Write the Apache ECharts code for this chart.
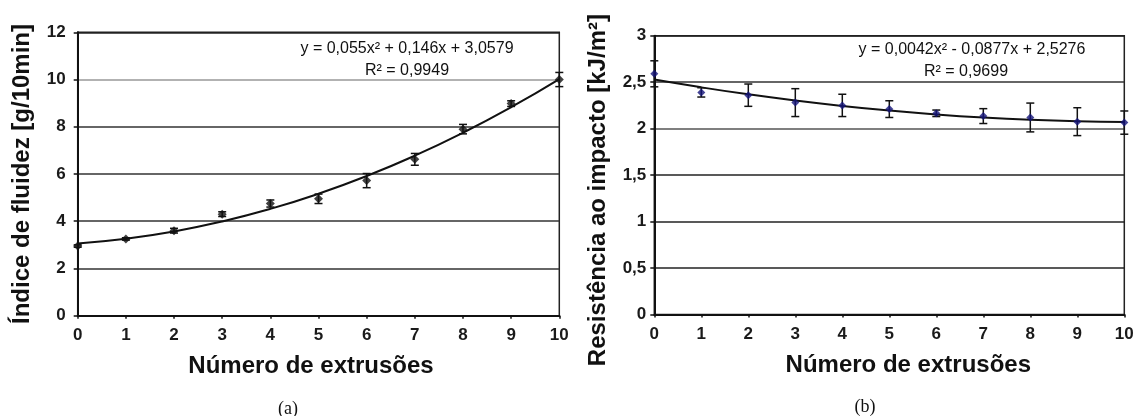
<!DOCTYPE html>
<html>
<head>
<meta charset="utf-8">
<script src="https://cdn.jsdelivr.net/npm/echarts@6/dist/echarts.min.js"></script>
<style>
  html, body { margin: 0; padding: 0; background: #ffffff; }
  #chart { width: 1137px; height: 416px; }
</style>
</head>
<body>
<div id="chart"></div>
<script>
// Número de extrusões (shared x values)
const extrusoes = [0, 1, 2, 3, 4, 5, 6, 7, 8, 9, 10];

// (a) Índice de fluidez [g/10min] — means and error half-widths
const fluidez = [2.95, 3.25, 3.6, 4.3, 4.75, 4.95, 5.72, 6.62, 7.9, 8.98, 10.0];
const fluidezErro = [0.05, 0.05, 0.1, 0.1, 0.15, 0.2, 0.3, 0.25, 0.2, 0.12, 0.3];
// quadratic trend coefficients [a, b, c] for y = a·x² + b·x + c
const fluidezTrend = [0.055, 0.146, 3.0579];
const fluidezEq = ['y = 0,055x² + 0,146x + 3,0579', 'R² = 0,9949'];

// (b) Resistência ao impacto [kJ/m²] — means and error half-widths
const impacto = [2.59, 2.39, 2.36, 2.28, 2.25, 2.21, 2.165, 2.135, 2.12, 2.075, 2.065];
const impactoErro = [0.14, 0.05, 0.12, 0.15, 0.12, 0.09, 0.035, 0.08, 0.155, 0.15, 0.125];
const impactoTrend = [0.0042, -0.0877, 2.5276];
const impactoEq = ['y = 0,0042x² - 0,0877x + 2,5276', 'R² = 0,9699'];

const captions = ['(a)', '(b)'];

const SANS = '"Liberation Sans", Arial, sans-serif';
const SERIF = '"Liberation Serif", "Times New Roman", serif';

function trendPoints(coef) {
  return extrusoes.map(x => [x, coef[0] * x * x + coef[1] * x + coef[2]]);
}
function points(vals) {
  return extrusoes.map((x, i) => [x, vals[i]]);
}
function errorData(vals, errs) {
  return extrusoes.map((x, i) => [x, vals[i], errs[i]]);
}

// vertical error bar with caps, placed through the axes' own coordinate mapping
function renderErrorBar(params, api) {
  const x = api.value(0), y = api.value(1), e = api.value(2);
  const top = api.coord([x, y + e]);
  const bot = api.coord([x, y - e]);
  const cap = 4;
  const style = { stroke: '#111', lineWidth: 1.5 };
  return {
    type: 'group',
    children: [
      { type: 'line', shape: { x1: top[0], y1: top[1], x2: bot[0], y2: bot[1] }, style },
      { type: 'line', shape: { x1: top[0] - cap, y1: top[1], x2: top[0] + cap, y2: top[1] }, style },
      { type: 'line', shape: { x1: bot[0] - cap, y1: bot[1], x2: bot[0] + cap, y2: bot[1] }, style }
    ]
  };
}

const tickLabel = { fontSize: 17, fontWeight: 'bold', color: '#1a1a1a', fontFamily: SANS };
const axisTitle = { fontSize: 24, fontWeight: 'bold', color: '#111', fontFamily: SANS };
const commaFmt = v => String(v).replace('.', ',');

function xAxisFor(gridIndex, pad) {
  return {
    type: 'value', gridIndex, min: 0, max: 10, interval: 1,
    name: 'Número de extrusões', nameLocation: 'middle', nameGap: 39,
    nameTextStyle: Object.assign({ padding: pad }, axisTitle),
    axisLine: { lineStyle: { color: '#111', width: 2 } },
    axisTick: { show: true, length: 3, lineStyle: { color: '#111', width: 1.5 } },
    axisLabel: Object.assign({ margin: 11 }, tickLabel),
    splitLine: { show: false }
  };
}

const option = {
  animation: false,
  backgroundColor: '#ffffff',
  grid: [
    { left: 77.7, top: 32.3, width: 481.6, height: 283.4, show: true, borderColor: '#222', borderWidth: 1.5, backgroundColor: '#fff' },
    { left: 654.3, top: 35.7, width: 470, height: 278.8, show: true, borderColor: '#222', borderWidth: 1.5, backgroundColor: '#fff' }
  ],
  xAxis: [xAxisFor(0, [0, 15, 0, 0]), xAxisFor(1, [0, 0, 0, 38])],
  yAxis: [
    {
      type: 'value', gridIndex: 0, min: 0, max: 12, interval: 2,
      name: 'Índice de fluidez [g/10min]', nameLocation: 'middle', nameGap: 43,
      nameTextStyle: axisTitle,
      axisLine: { show: true, lineStyle: { color: '#111', width: 2 } },
      axisTick: { show: true, length: 4, lineStyle: { color: '#111', width: 1.5 } },
      axisLabel: Object.assign({ margin: 12 }, tickLabel),
      splitLine: { show: true, lineStyle: { color: ['#222', '#333', '#333', '#333', '#333', '#999', '#222'], width: 1.5 } }
    },
    {
      type: 'value', gridIndex: 1, min: 0, max: 3, interval: 0.5,
      name: 'Resistência ao impacto [kJ/m²]', nameLocation: 'middle', nameGap: 44,
      nameTextStyle: Object.assign({ padding: [0, 30, 0, 0] }, axisTitle),
      axisLine: { show: true, lineStyle: { color: '#111', width: 2 } },
      axisTick: { show: true, length: 4, lineStyle: { color: '#111', width: 1.5 } },
      axisLabel: Object.assign({ margin: 8, formatter: commaFmt }, tickLabel),
      splitLine: { show: true, lineStyle: { color: ['#222', '#222', '#222', '#222', '#555', '#333', '#222'], width: 1.5 } }
    }
  ],
  series: [
    {
      type: 'line', xAxisIndex: 0, yAxisIndex: 0, data: trendPoints(fluidezTrend),
      smooth: true, showSymbol: false, lineStyle: { color: '#111', width: 2 }, z: 3
    },
    {
      type: 'custom', xAxisIndex: 0, yAxisIndex: 0, data: errorData(fluidez, fluidezErro),
      renderItem: renderErrorBar, encode: { x: 0, y: 1 }, z: 4
    },
    {
      type: 'scatter', xAxisIndex: 0, yAxisIndex: 0, data: points(fluidez),
      symbol: 'diamond', symbolSize: 9, itemStyle: { color: '#111' }, z: 5
    },
    {
      type: 'line', xAxisIndex: 1, yAxisIndex: 1, data: trendPoints(impactoTrend),
      smooth: true, showSymbol: false, lineStyle: { color: '#111', width: 2 }, z: 3
    },
    {
      type: 'custom', xAxisIndex: 1, yAxisIndex: 1, data: errorData(impacto, impactoErro),
      renderItem: renderErrorBar, encode: { x: 0, y: 1 }, z: 4
    },
    {
      type: 'scatter', xAxisIndex: 1, yAxisIndex: 1, data: points(impacto),
      symbol: 'diamond', symbolSize: 8, itemStyle: { color: '#14147a' }, z: 5
    }
  ],
  graphic: [
    { type: 'text', x: 407, y: 49, style: { text: fluidezEq[0], fill: '#111', font: '16px ' + SANS, textAlign: 'center', textVerticalAlign: 'middle' } },
    { type: 'text', x: 407, y: 71, style: { text: fluidezEq[1], fill: '#111', font: '16px ' + SANS, textAlign: 'center', textVerticalAlign: 'middle' } },
    { type: 'text', x: 972, y: 50, style: { text: impactoEq[0], fill: '#111', font: '16px ' + SANS, textAlign: 'center', textVerticalAlign: 'middle' } },
    { type: 'text', x: 966, y: 72, style: { text: impactoEq[1], fill: '#111', font: '16px ' + SANS, textAlign: 'center', textVerticalAlign: 'middle' } },
    { type: 'text', x: 288, y: 409, style: { text: captions[0], fill: '#111', font: '18px ' + SERIF, textAlign: 'center', textVerticalAlign: 'middle' } },
    { type: 'text', x: 865, y: 407, style: { text: captions[1], fill: '#111', font: '18px ' + SERIF, textAlign: 'center', textVerticalAlign: 'middle' } }
  ]
};

const chart = echarts.init(document.getElementById('chart'), null, { renderer: 'canvas' });
chart.setOption(option);
</script>
</body>
</html>
